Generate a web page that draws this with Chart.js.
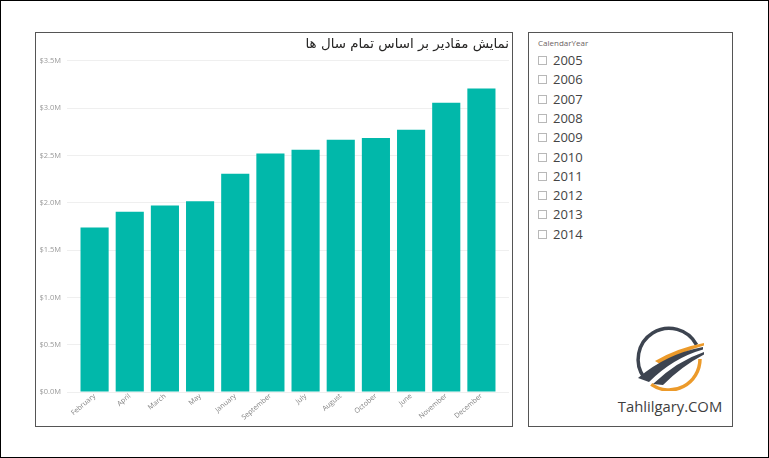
<!DOCTYPE html>
<html>
<head>
<meta charset="utf-8">
<script src="https://cdn.jsdelivr.net/npm/chart.js@4/dist/chart.umd.min.js"></script>
<style>
  html, body { margin: 0; padding: 0; background: #fff; }
  #frame { position: relative; width: 769px; height: 458px; box-sizing: border-box; border: 1px solid #000; overflow: hidden; }
  .panel { position: absolute; box-sizing: border-box; border: 1px solid #555; background: #fff; }
  #chartPanel { left: 34px; top: 31px; width: 478px; height: 395px; }
  #chartBox { position: absolute; left: 35px; top: 32px; width: 473px; height: 392px; }
  #slicer { left: 527px; top: 31px; width: 205px; height: 395px; font-family: 'Open Sans', sans-serif; }
  #slicer .head { position: absolute; left: 9px; top: 4px; font-size: 8px; color: #6b6262; }
  #slicer .item { position: absolute; left: 9px; height: 18px; line-height: 18px; font-size: 13px; color: #444; }
  #slicer .box { display: inline-block; width: 7px; height: 7px; border: 1px solid #b8b8b8; margin-right: 6px; vertical-align: 0px; }
  #brand { position: absolute; left: 590px; top: 395px; width: 158px; text-align: center; font-family: 'Open Sans', sans-serif; font-size: 14.8px; color: #3e3e3e; }
</style>
</head>
<body>
<div id="frame">
  <div class="panel" id="chartPanel"></div>
  <div id="chartBox"><canvas id="salesChart"></canvas></div>
  <div class="panel" id="slicer"><div class="head">CalendarYear</div></div>
  <svg style="position:absolute;left:628px;top:320px" width="80" height="70" viewBox="628 320 80 70">
    <path d="M643.2 376.7 A31 31 0 1 1 695.6 343.9" fill="none" stroke="#3d4450" stroke-width="3.5"/>
    <path d="M699 358 A31 31 0 0 1 650.2 383.4" fill="none" stroke="#ec9a2a" stroke-width="3.5"/>
    <path d="M654 360 Q676 347 703 342 L703 344.5 Q680 351 659 363 Z" fill="#ec9a2a"/>
    <path d="M637 377 Q665 353 702 346 L702 348.5 Q672 357 648 381 Z" fill="#3d4450"/>
    <path d="M652 383 Q676 360 703 351 L703 353.5 Q681 365 662 384 Z" fill="#3d4450"/>
  </svg>
  <div id="brand">Tahlilgary.COM</div>
</div>
<script>
// values
const months = ['February', 'April', 'March', 'May', 'January', 'September', 'July', 'August', 'October', 'June', 'November', 'December'];
const salesAmount = [1738000, 1905000, 1971000, 2018000, 2307000, 2522000, 2561000, 2667000, 2685000, 2773000, 3059000, 3208000];
const years = [2005, 2006, 2007, 2008, 2009, 2010, 2011, 2012, 2013, 2014];
const yMax = 3500000;
const yStep = 500000;
const chartTitle = 'نمایش مقادیر بر اساس تمام سال ها';

// slicer list
const slicer = document.getElementById('slicer');
years.forEach((y, i) => {
  const row = document.createElement('div');
  row.className = 'item';
  row.style.top = (18 + i * 19.3) + 'px';
  row.innerHTML = '<span class="box"></span>' + y;
  slicer.appendChild(row);
});

const ctx = document.getElementById('salesChart').getContext('2d');
new Chart(ctx, {
  type: 'bar',
  data: {
    labels: months,
    datasets: [{
      data: salesAmount,
      backgroundColor: '#01B8AA',
      barPercentage: 0.8,
      categoryPercentage: 1.0,
    }],
  },
  options: {
    responsive: true,
    maintainAspectRatio: false,
    animation: false,
    layout: { padding: 0 },
    plugins: {
      legend: { display: false },
      tooltip: { enabled: false },
      title: {
        display: true,
        text: chartTitle,
        align: 'end',
        color: '#252423',
        font: { family: "'DejaVu Sans', sans-serif", size: 13.4, weight: 'normal', lineHeight: 1.2 },
        padding: { top: 3.5, bottom: 8.4 },
      },
    },
    scales: {
      x: {
        grid: { display: false, drawTicks: false, tickLength: 0 },
        border: { display: false },
        ticks: {
          color: '#808080',
          font: { family: "'Open Sans', sans-serif", size: 7 },
          minRotation: 40,
          maxRotation: 40,
          padding: 0,
          autoSkip: false,
        },
        afterFit: (s) => { s.height = 33; },
      },
      y: {
        min: 0,
        max: yMax,
        border: { display: false },
        grid: { color: '#efefef', tickLength: 10 },
        ticks: {
          stepSize: yStep,
          color: '#999',
          padding: 6,
          font: { family: "'Open Sans', sans-serif", size: 7.5 },
          callback: (v) => '$' + (v / 1000000).toFixed(1) + 'M',
        },
        afterFit: (s) => { s.width = 41; },
      },
      yRight: {
        position: 'right',
        min: 0,
        max: yMax,
        border: { display: false },
        grid: { color: '#efefef', tickLength: 10, drawOnChartArea: false },
        ticks: { stepSize: yStep, display: false },
        afterFit: (s) => { s.width = 10; },
      },
    },
  },
});
</script>
</body>
</html>
